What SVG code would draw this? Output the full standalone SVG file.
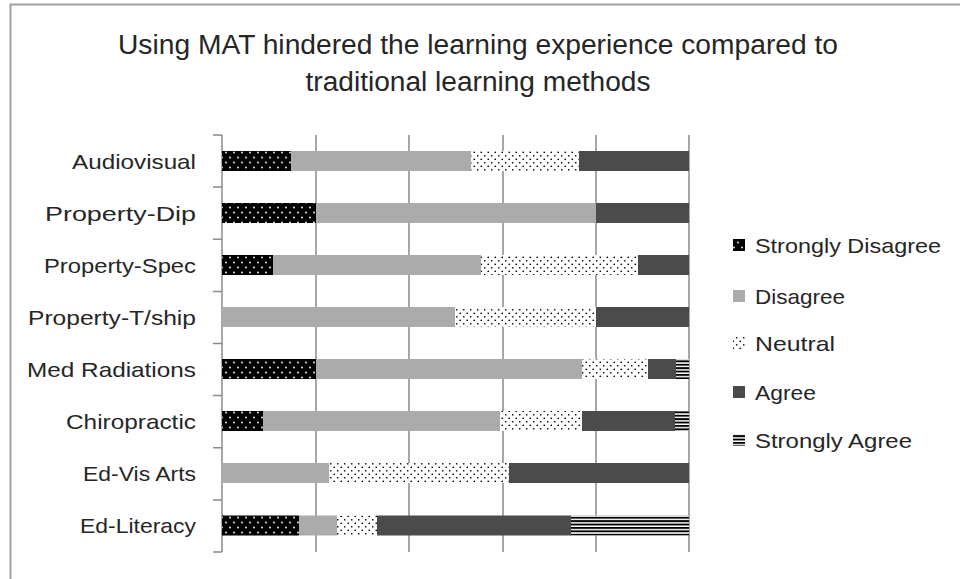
<svg xmlns="http://www.w3.org/2000/svg" width="960" height="579" viewBox="0 0 960 579">
<defs>
<pattern id="pSD" patternUnits="userSpaceOnUse" width="8" height="10">
<rect width="8" height="10" fill="#000"/>
<circle cx="2" cy="2.5" r="0.9" fill="#fff"/>
<circle cx="6" cy="7.5" r="0.9" fill="#fff"/>
</pattern>
<pattern id="pN" patternUnits="userSpaceOnUse" width="7" height="7">
<rect width="7" height="7" fill="#fff"/>
<circle cx="1.75" cy="1.75" r="0.85" fill="#000"/>
<circle cx="5.25" cy="5.25" r="0.85" fill="#000"/>
</pattern>
<pattern id="pSA" patternUnits="userSpaceOnUse" width="8" height="3.4">
<rect width="8" height="3.4" fill="#fff"/>
<rect width="8" height="1.9" fill="#000"/>
</pattern>
<style>
.t{font-family:"Liberation Sans",Arial,sans-serif;fill:#262626;}
.cat{font-size:21px;text-anchor:end;}
.leg{font-size:21px;}
.title{font-size:27px;text-anchor:middle;}
.grid{stroke:#8a8a8a;stroke-width:1.5;fill:none;}
.sd{fill:url(#pSD);}
.d{fill:#ababab;}
.n{fill:url(#pN);}
.a{fill:#4b4b4b;}
.sa{fill:url(#pSA);}
</style>
</defs>
<rect width="960" height="579" fill="#fff"/>
<path d="M10.5,579 V4.5 H960" stroke="#a0a0a0" stroke-width="2" fill="none"/>
<g id="title">
<text class="t title" x="478" y="54" textLength="720" lengthAdjust="spacingAndGlyphs">Using MAT hindered the learning experience compared to</text>
<text class="t title" x="478" y="91" textLength="345" lengthAdjust="spacingAndGlyphs">traditional learning methods</text>
</g>
<g id="axes">
<path class="grid" d="M316,135V552 M409,135V552 M503,135V552 M596,135V552 M689,135V552"/>
<path class="grid" d="M222,135V552 M213,135H222 M213,187.1H222 M213,239.2H222 M213,291.4H222 M213,343.5H222 M213,395.6H222 M213,447.8H222 M213,499.9H222 M213,552H222"/>
</g>
<g id="labels">
<text class="t cat" x="196" y="168.5" textLength="124" lengthAdjust="spacingAndGlyphs">Audiovisual</text>
<text class="t cat" x="196" y="220.5" textLength="151" lengthAdjust="spacingAndGlyphs">Property-Dip</text>
<text class="t cat" x="196" y="272.5" textLength="152" lengthAdjust="spacingAndGlyphs">Property-Spec</text>
<text class="t cat" x="196" y="324.5" textLength="168" lengthAdjust="spacingAndGlyphs">Property-T/ship</text>
<text class="t cat" x="196" y="376.5" textLength="169" lengthAdjust="spacingAndGlyphs">Med Radiations</text>
<text class="t cat" x="196" y="428.5" textLength="130" lengthAdjust="spacingAndGlyphs">Chiropractic</text>
<text class="t cat" x="196" y="481" textLength="113" lengthAdjust="spacingAndGlyphs">Ed-Vis Arts</text>
<text class="t cat" x="196" y="533" textLength="116" lengthAdjust="spacingAndGlyphs">Ed-Literacy</text>
</g>
<g id="bars">
<g id="bar-audiovisual">
<rect class="sd" x="222" y="151" width="69" height="20"/>
<rect class="d" x="291" y="151" width="180" height="20"/>
<rect class="n" x="471" y="151" width="108" height="20"/>
<rect class="a" x="579" y="151" width="110" height="20"/>
</g>
<g id="bar-property-dip">
<rect class="sd" x="222" y="203" width="94" height="20"/>
<rect class="d" x="316" y="203" width="280" height="20"/>
<rect class="a" x="596" y="203" width="93" height="20"/>
</g>
<g id="bar-property-spec">
<rect class="sd" x="222" y="255" width="51" height="20"/>
<rect class="d" x="273" y="255" width="208" height="20"/>
<rect class="n" x="481" y="255" width="157" height="20"/>
<rect class="a" x="638" y="255" width="51" height="20"/>
</g>
<g id="bar-property-tship">
<rect class="d" x="222" y="307" width="233" height="20"/>
<rect class="n" x="455" y="307" width="141" height="20"/>
<rect class="a" x="596" y="307" width="93" height="20"/>
</g>
<g id="bar-med-radiations">
<rect class="sd" x="222" y="359" width="94" height="20"/>
<rect class="d" x="316" y="359" width="266" height="20"/>
<rect class="n" x="582" y="359" width="66" height="20"/>
<rect class="a" x="648" y="359" width="28" height="20"/>
<rect class="sa" x="676" y="359" width="13" height="20"/>
</g>
<g id="bar-chiropractic">
<rect class="sd" x="222" y="411" width="41" height="20"/>
<rect class="d" x="263" y="411" width="237" height="20"/>
<rect class="n" x="500" y="411" width="82" height="20"/>
<rect class="a" x="582" y="411" width="93" height="20"/>
<rect class="sa" x="675" y="411" width="14" height="20"/>
</g>
<g id="bar-ed-vis-arts">
<rect class="d" x="222" y="463" width="107" height="20"/>
<rect class="n" x="329" y="463" width="180" height="20"/>
<rect class="a" x="509" y="463" width="180" height="20"/>
</g>
<g id="bar-ed-literacy">
<rect class="sd" x="222" y="515.5" width="77" height="20"/>
<rect class="d" x="299" y="515.5" width="38" height="20"/>
<rect class="n" x="337" y="515.5" width="40" height="20"/>
<rect class="a" x="377" y="515.5" width="194" height="20"/>
<rect class="sa" x="571" y="515.5" width="118" height="20"/>
</g>
</g>
<g id="legend">
<g id="leg-sd"><rect class="sd" x="733" y="239" width="12" height="12"/><text class="t leg" x="755" y="252.5" textLength="186" lengthAdjust="spacingAndGlyphs">Strongly Disagree</text></g>
<g id="leg-d"><rect class="d" x="733" y="290" width="12" height="12"/><text class="t leg" x="755" y="304" textLength="90" lengthAdjust="spacingAndGlyphs">Disagree</text></g>
<g id="leg-n"><rect class="n" x="733" y="337" width="12" height="12"/><text class="t leg" x="755" y="351" textLength="80" lengthAdjust="spacingAndGlyphs">Neutral</text></g>
<g id="leg-a"><rect class="a" x="733" y="386" width="12" height="12"/><text class="t leg" x="755" y="400" textLength="61" lengthAdjust="spacingAndGlyphs">Agree</text></g>
<g id="leg-sa"><rect class="sa" x="733" y="434" width="12" height="12"/><text class="t leg" x="755" y="447.5" textLength="157" lengthAdjust="spacingAndGlyphs">Strongly Agree</text></g>
</g>
</svg>
